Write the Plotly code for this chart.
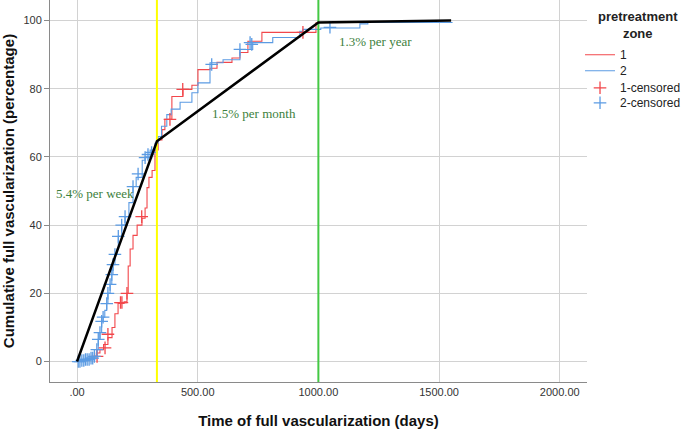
import plotly.graph_objects as go

# ---- data ----
zone1_days = [0, 33, 54, 66, 80, 95, 110, 128, 145, 157, 170, 195, 207, 212, 220, 232, 249, 269,
              282, 290, 298, 311, 323, 336, 352, 364, 393, 439, 476, 501, 551, 580, 642, 675, 708,
              766, 990, 1000]
zone1_pct = [0, 0.5, 1, 1.5, 2.5, 3.5, 5, 7, 10, 14, 17, 17.5, 20, 28, 33, 37, 40, 42,
             45, 51, 54, 56, 62, 65, 68, 71, 77.7, 79.8, 81, 85.6, 86, 87.7, 89, 90.6, 93.9,
             96.5, 99.3, 99.3]
zone1_cens_days = [83, 116, 128, 180, 186, 207, 268, 385, 438, 936]
zone1_cens_pct = [1.5, 4, 8, 17.3, 17.3, 20, 42.5, 71, 79.8, 96.5]

zone2_days = [0, 20, 40, 60, 75, 82, 88, 95, 102, 108, 115, 123, 128, 137, 144, 149, 157, 165,
              171, 185, 199, 215, 232, 245, 270, 282, 303, 323, 336, 350, 372, 390, 427, 476,
              501, 551, 605, 675, 728, 811, 923, 936, 1010, 1172, 1205, 1556]
zone2_pct = [0, 0.3, 0.6, 1, 1.5, 3.5, 6.5, 8.5, 11.8, 13, 15, 17, 20, 22.6, 25.5, 28.4, 31.4, 33,
             36.7, 40, 42.5, 46.6, 51.3, 54, 59, 60, 62, 64, 66, 69, 72.4, 74, 76, 78.8,
             81.7, 87.6, 88.5, 91.5, 93.5, 95, 96.8, 97.4, 97.8, 99.0, 99.4, 99.4]
zone2_cens_days = [5, 12, 20, 28, 35, 42, 50, 58, 65, 72, 82, 88, 95, 102, 108, 123, 128, 137, 144,
                   149, 157, 171, 185, 199, 232, 253, 282, 294, 309, 558, 675, 717, 724, 1048]
zone2_cens_pct = [0, 0, 0.3, 0.3, 0.6, 0.6, 0.6, 1, 1, 1.5, 3.5, 6.5, 8.5, 11.8, 13, 17, 20, 22.6,
                  25.5, 28.4, 31.4, 36.7, 40, 42.5, 51.3, 55, 59.8, 60.7, 61.3, 87.1, 91.5, 93.5,
                  93, 98.0]

trend_days = [0, 331, 1000, 1550]
trend_pct = [0, 64.6, 99.4, 100]

ref_days = [331, 1000]
rate_labels = ["5.4% per week", "1.5% per month", "1.3% per year"]
rate_days = [73, 733, 1238]
rate_pct = [49.3, 72.7, 93.8]

x_ticks = [0, 500, 1000, 1500, 2000]
x_ticktext = [".00", "500.00", "1000.00", "1500.00", "2000.00"]
y_ticks = [0, 20, 40, 60, 80, 100]

RED = "#f2474b"
BLUE = "#5b9be3"

fig = go.Figure()

fig.add_trace(go.Scatter(x=zone1_days, y=zone1_pct, mode="lines", line_shape="hv",
                         line=dict(color=RED, width=1.1), name="1", legend="legend"))
fig.add_trace(go.Scatter(x=zone2_days, y=zone2_pct, mode="lines", line_shape="hv",
                         line=dict(color=BLUE, width=1.1), name="2", legend="legend2"))
fig.add_trace(go.Scatter(x=zone1_cens_days, y=zone1_cens_pct, mode="markers", name="1-censored",
                         legend="legend3",
                         marker=dict(symbol="cross-thin", size=9, line=dict(color=RED, width=1.3))))
fig.add_trace(go.Scatter(x=zone2_cens_days, y=zone2_cens_pct, mode="markers", name="2-censored",
                         legend="legend4",
                         marker=dict(symbol="cross-thin", size=9, line=dict(color=BLUE, width=1.3))))

# reference vertical lines
fig.add_trace(go.Scatter(x=[ref_days[0], ref_days[0]], y=[-6, 106], mode="lines",
                         line=dict(color="#ffff00", width=2), showlegend=False))
fig.add_trace(go.Scatter(x=[ref_days[1], ref_days[1]], y=[-6, 106], mode="lines",
                         line=dict(color="#44c944", width=2), showlegend=False))
# piecewise trend
fig.add_trace(go.Scatter(x=trend_days, y=trend_pct, mode="lines",
                         line=dict(color="black", width=2.5), showlegend=False))

for t, d, p in zip(rate_labels, rate_days, rate_pct):
    fig.add_annotation(x=d, y=p, text=t, showarrow=False,
                       font=dict(family="Liberation Serif", size=13, color="#3d7f3d"))

# legend title (centred two-line heading)
fig.add_annotation(xref="paper", yref="paper", x=1.095, y=0.981, xanchor="center", yanchor="top",
                   text="<b>pretreatment<br>zone</b>", align="center", showarrow=False,
                   font=dict(size=13, color="#222"))

leg_common = dict(x=0.987, xanchor="left", yanchor="top",
                  font=dict(size=12, color="#222"), itemwidth=30,
                  bgcolor="rgba(0,0,0,0)", borderwidth=0)

fig.update_layout(
    template="none",
    width=685, height=429,
    margin=dict(l=50, r=98, t=0, b=47, autoexpand=False),
    paper_bgcolor="white", plot_bgcolor="white",
    font=dict(family="Liberation Sans, Arial", color="#222"),
    showlegend=True,
    legend=dict(y=0.8945, **leg_common),
    legend2=dict(y=0.8526, **leg_common),
    legend3=dict(y=0.8081, **leg_common),
    legend4=dict(y=0.7689, **leg_common),
    hovermode=False,
)
fig.update_xaxes(range=[-112, 2113], tickvals=x_ticks, ticktext=x_ticktext, automargin=False,
                 showgrid=True, gridcolor="#d2d2d2", gridwidth=1, zeroline=False,
                 showline=True, linecolor="#8a8a8a", linewidth=1, ticks="",
                 tickfont=dict(size=11, color="#333"),
                 title=dict(text="<b>Time of full vascularization (days)</b>",
                            font=dict(size=15, color="#111")))
fig.update_yaxes(range=[-6, 106], tickvals=y_ticks, automargin=False,
                 showgrid=True, gridcolor="#d2d2d2", gridwidth=1, zeroline=False,
                 showline=True, linecolor="#8a8a8a", linewidth=1,
                 ticks="outside", ticklen=5, tickcolor="#8a8a8a",
                 tickfont=dict(size=11, color="#333"),
                 title=dict(text="<b>Cumulative full vascularization (percentage)</b>",
                            font=dict(size=15, color="#111")))

fig.write_html("out.html", config={"displayModeBar": False},
               post_script="document.body.style.margin='0';document.body.style.padding='0';")
